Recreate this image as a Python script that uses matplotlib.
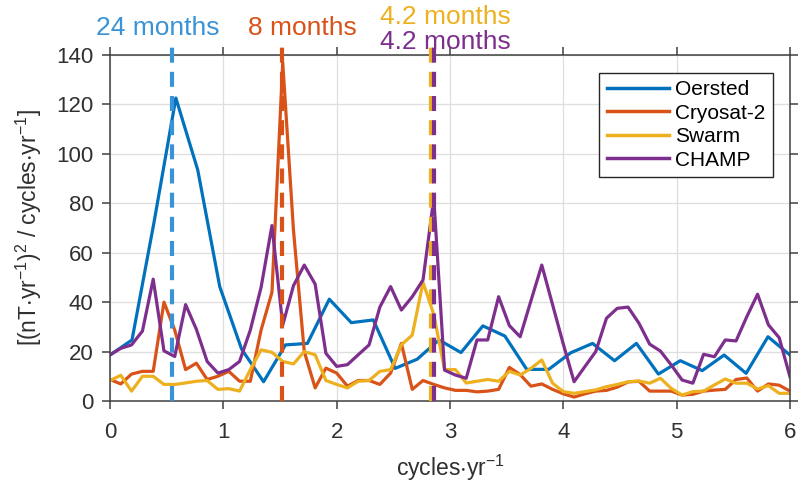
import matplotlib
matplotlib.use('Agg')
import matplotlib.pyplot as plt
import numpy as np

# --- Spectra (frequency in cycles/yr, power in (nT/yr)^2 per cycle/yr) ---
freq_oersted = [0.0, 0.194, 0.387, 0.581, 0.774, 0.968, 1.161, 1.355, 1.548, 1.742,
                1.935, 2.129, 2.323, 2.516, 2.710, 2.903, 3.097, 3.290, 3.484, 3.677,
                3.871, 4.065, 4.258, 4.452, 4.645, 4.839, 5.032, 5.226, 5.419, 5.613,
                5.806, 6.0]
oersted = [18.6, 24.7, 72, 122.6, 93.5, 46.3, 21, 7.8, 22.7, 23.3,
           41.2, 31.7, 32.8, 13.2, 16.9, 24.7, 19.6, 30.4, 26.3, 12.8,
           12.8, 19.5, 23.3, 16.3, 23.3, 10.9, 16.3, 12.3, 18.6, 11.2,
           26, 18.6]

freq_fine = [0.0, 0.095, 0.190, 0.286, 0.381, 0.476, 0.571, 0.667, 0.762, 0.857,
             0.952, 1.048, 1.143, 1.238, 1.333, 1.429, 1.524, 1.619, 1.714, 1.810,
             1.905, 2.0, 2.095, 2.190, 2.286, 2.381, 2.476, 2.571, 2.667, 2.762,
             2.857, 2.952, 3.048, 3.143, 3.238, 3.333, 3.429, 3.524, 3.619, 3.714,
             3.810, 3.905, 4.0, 4.095, 4.190, 4.286, 4.381, 4.476, 4.571, 4.667,
             4.762, 4.857, 4.952, 5.048, 5.143, 5.238, 5.333, 5.429, 5.524, 5.619,
             5.714, 5.810, 5.905, 6.0]
cryosat = [8.7, 6.9, 10.9, 12, 12, 40, 28.7, 12.7, 15.3, 8.7,
           10, 12, 8, 8, 28.7, 44, 137, 69, 20, 5.3,
           13.3, 11.3, 6, 8.3, 8.3, 6.7, 11.3, 23.3, 4.7, 8.3,
           6.7, 5.3, 4.3, 4.3, 3.7, 4, 4.7, 13.6, 10.7, 6,
           6.9, 4.7, 2.9, 1.6, 2.9, 4, 4.3, 5.6, 7.7, 8,
           4, 4, 4, 2.4, 2.7, 4, 4.4, 4.7, 8.7, 9.3,
           4, 6.9, 6.4, 4]
swarm = [8.3, 10.4, 4, 10, 10, 6.7, 6.7, 7.3, 8, 8.3,
         4.7, 5, 4, 12.7, 20.7, 19.7, 16, 15, 20, 18.7,
         8.3, 6.7, 5.3, 8, 8.3, 12, 12.7, 22.7, 26.7, 48,
         35, 12.7, 12.7, 7.3, 8, 8.7, 8, 12, 10.5, 13.2,
         16.6, 7.2, 3.8, 3.1, 3.8, 4.5, 5.8, 6.7, 7.8, 8.1,
         7.2, 9.2, 5.1, 2.4, 3.8, 4, 6.5, 8.9, 7.2, 7.2,
         4.9, 6.2, 3.1, 3.1]
champ = [18.7, 21.3, 22.7, 28.3, 49.3, 20.3, 18, 39, 29, 16,
         11.3, 12.7, 16, 28.7, 46, 71, 30.7, 46.7, 55, 47.3,
         19.3, 14, 14.7, 18.7, 22.7, 38, 46.3, 36.8, 42.2, 49,
         82, 12.5, 10.5, 9.2, 24.7, 24.7, 42.2, 30.5, 26, 40.5,
         55, 39, 23, 7.8, 13.9, 20, 33.5, 37.5, 38, 31.5,
         23, 20.2, 14.6, 8.5, 7.2, 18.9, 17.9, 24.7, 24.3, 34.1,
         43.2, 30.8, 25.6, 9.8]

series_names = ['Oersted', 'Cryosat-2', 'Swarm', 'CHAMP']
series_colors = ['#0072BD', '#D95319', '#EDB120', '#7E2F8E']

# Marked periods: label, frequency of the dashed line, colour
period_labels = ['24 months', '8 months', '4.2 months', '4.2 months']
period_freqs = [0.55, 1.52, 2.83, 2.86]
period_colors = ['#3A93D6', '#D95319', '#EDB120', '#7E2F8E']
label_pos = [(0.42, 151.0), (1.70, 151.0), (2.96, 155.5), (2.96, 145.3)]


def create_spectrum_plot():
    plt.close('all')
    plt.rcParams['font.family'] = ['Liberation Sans', 'DejaVu Sans']
    plt.rcParams['mathtext.default'] = 'regular'

    fig = plt.figure(figsize=(7.99, 4.86), dpi=100)
    ax = fig.add_axes([0.1377, 0.1749, 0.8510, 0.7119])

    ax.plot(freq_oersted, oersted, color=series_colors[0], lw=2.3, label=series_names[0])
    ax.plot(freq_fine, cryosat, color=series_colors[1], lw=2.3, label=series_names[1])
    ax.plot(freq_fine, swarm, color=series_colors[2], lw=2.3, label=series_names[2])
    ax.plot(freq_fine, champ, color=series_colors[3], lw=2.3, label=series_names[3])

    # dashed period markers run a bit past the top of the axes
    for f, c in zip(period_freqs, period_colors):
        ax.plot([f, f], [0, 146], color=c, lw=3, dashes=(3.6, 2.2),
                clip_on=False, zorder=4)
    for txt, (tx, ty), c in zip(period_labels, label_pos, period_colors):
        ax.text(tx, ty, txt, color=c, fontsize=19, ha='center', va='center',
                clip_on=False)

    ax.set_xlim(0, 6)
    ax.set_ylim(0, 140)
    ax.set_xticks(range(0, 7))
    ax.set_yticks(range(0, 141, 20))
    ax.grid(True, color='#dedede', lw=0.9)
    ax.set_axisbelow(True)

    for side in ['left', 'right', 'top', 'bottom']:
        ax.spines[side].set_color('#404040')
        ax.spines[side].set_linewidth(1.1)
    ax.tick_params(direction='out', length=6, width=1.1, color='#404040',
                   labelsize=16, labelcolor='#303030', top=True, right=True)
    ax.tick_params(axis='x', pad=9)
    ax.tick_params(axis='y', pad=6)

    ax.set_xlabel(r'cycles$\cdot$yr$^{-1}$', fontsize=16.5, color='#303030', labelpad=7)
    ax.set_ylabel(r'[(nT$\cdot$yr$^{-1}$)$^2$ / cycles$\cdot$yr$^{-1}$]',
                  fontsize=16.5, color='#303030', labelpad=9)

    leg = ax.legend(loc='upper right', bbox_to_anchor=(0.975, 0.949),
                    borderaxespad=0, fontsize=15, handlelength=3.0,
                    handletextpad=0.3, labelspacing=0.22, borderpad=0.35,
                    fancybox=False, framealpha=1, edgecolor='#262626')
    leg.get_frame().set_linewidth(1.0)
    for line in leg.get_lines():
        line.set_linewidth(2.5)

    fig.savefig('out.png', dpi=100)


if __name__ == "__main__":
    create_spectrum_plot()
